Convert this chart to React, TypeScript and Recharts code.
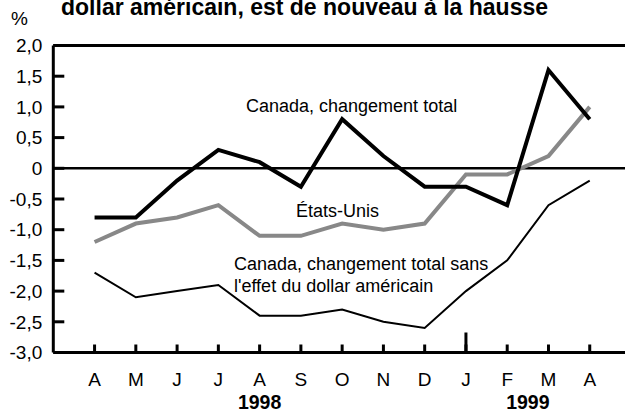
import React from 'react';
import { LineChart, Line, XAxis, YAxis, ReferenceLine } from 'recharts';

const months = ['A', 'M', 'J', 'J', 'A', 'S', 'O', 'N', 'D', 'J', 'F', 'M', 'A'];
const canadaTotal = [-0.8, -0.8, -0.2, 0.3, 0.1, -0.3, 0.8, 0.2, -0.3, -0.3, -0.6, 1.6, 0.8];
const etatsUnis = [-1.2, -0.9, -0.8, -0.6, -1.1, -1.1, -0.9, -1.0, -0.9, -0.1, -0.1, 0.2, 1.0];
const canadaSansDollar = [-1.7, -2.1, -2.0, -1.9, -2.4, -2.4, -2.3, -2.5, -2.6, -2.0, -1.5, -0.6, -0.2];
const yTicks = [2, 1.5, 1, 0.5, 0, -0.5, -1, -1.5, -2, -2.5, -3];
const xTicks = months.map((_, i) => i);
const yearLabels = [
  { index: 4, label: '1998', shift: 0 },
  { index: 10, label: '1999', shift: 0.5 },
];
const longTickIndex = 9;

const data = months.map((m, i) => ({
  i,
  month: m,
  total: canadaTotal[i],
  us: etatsUnis[i],
  sans: canadaSansDollar[i],
}));

const FONT = '"Liberation Sans", Arial, Helvetica, sans-serif';
const W = 640;
const H = 411;
const PLOT_LEFT = 53.3;
const PLOT_RIGHT = 631;
const PLOT_TOP = 45.5;
const PLOT_BOTTOM = 352.5;
const STEP = (PLOT_RIGHT - PLOT_LEFT) / 14;
const X_TICK_LEN = 8;
const X_TICK_MARGIN = 28.5;

const fmtY = (v: number) => (v === 0 ? '0' : v.toFixed(1).replace('.', ','));

const XTick = (props: any) => {
  const { x, y, payload } = props;
  const i = payload.value as number;
  const axisY = y - X_TICK_MARGIN + X_TICK_LEN;
  const year = yearLabels.find((yl) => yl.index === i);
  return (
    <g>
      <text x={x} y={y} dy="0.71em" textAnchor="middle" fill="#000" fontSize={19} fontFamily={FONT}>
        {months[i]}
      </text>
      {i === longTickIndex && (
        <line x1={x} x2={x} y1={axisY} y2={axisY - 20} stroke="#000" strokeWidth={3} />
      )}
      {year && (
        <text
          x={x + year.shift * STEP}
          y={y + 35.5}
          textAnchor="middle"
          fill="#000"
          fontSize={19.5}
          fontWeight="bold"
          fontFamily={FONT}
        >
          {year.label}
        </text>
      )}
    </g>
  );
};

export default function App() {
  return (
    <div style={{ position: 'fixed', left: 0, top: 0, width: 625, height: 411, overflow: 'hidden', background: '#fff' }}>
      <LineChart
        width={W}
        height={H}
        data={data}
        margin={{ top: PLOT_TOP, right: W - PLOT_RIGHT, bottom: 0, left: 0 }}
      >
        <XAxis
          dataKey="i"
          type="number"
          domain={[-1, 13]}
          ticks={xTicks}
          interval={0}
          height={H - PLOT_BOTTOM}
          tickSize={-X_TICK_LEN}
          tickMargin={X_TICK_MARGIN}
          tickLine={{ stroke: '#000', strokeWidth: 3 }}
          axisLine={{ stroke: '#000', strokeWidth: 3 }}
          tick={(p: any) => <XTick {...p} />}
        />
        <YAxis
          yAxisId="l"
          type="number"
          domain={[-3, 2]}
          ticks={yTicks}
          interval={0}
          width={PLOT_LEFT}
          tickSize={-11}
          tickMargin={22}
          tickFormatter={fmtY}
          tickLine={{ stroke: '#000', strokeWidth: 3 }}
          axisLine={{ stroke: '#000', strokeWidth: 3 }}
          tick={{ fill: '#000', fontSize: 19, fontFamily: FONT }}
        />
        <YAxis
          yAxisId="r"
          orientation="right"
          mirror
          type="number"
          domain={[-3, 2]}
          ticks={yTicks}
          interval={0}
          tickSize={11}
          tick={false}
          tickLine={{ stroke: '#000', strokeWidth: 3 }}
          axisLine={{ stroke: '#000', strokeWidth: 3 }}
        />
        <ReferenceLine yAxisId="l" y={2} stroke="#000" strokeWidth={3} />
        <ReferenceLine yAxisId="l" y={0} stroke="#000" strokeWidth={2.5} />
        <Line
          yAxisId="l"
          dataKey="sans"
          stroke="#000"
          strokeWidth={2}
          dot={false}
          activeDot={false}
          isAnimationActive={false}
          type="linear"
        />
        <Line
          yAxisId="l"
          dataKey="us"
          stroke="#888888"
          strokeWidth={4}
          dot={false}
          activeDot={false}
          isAnimationActive={false}
          type="linear"
        />
        <Line
          yAxisId="l"
          dataKey="total"
          stroke="#000"
          strokeWidth={4}
          dot={false}
          activeDot={false}
          isAnimationActive={false}
          type="linear"
        />
      </LineChart>
      <svg
        width={625}
        height={411}
        style={{ position: 'absolute', left: 0, top: 0, pointerEvents: 'none' }}
      >
        <text x={61} y={15} fontSize={23} fontWeight="bold" fontFamily={FONT} fill="#000">
          dollar américain, est de nouveau à la hausse
        </text>
        <text x={11} y={25} fontSize={19} fontFamily={FONT} fill="#000">%</text>
        <text x={246} y={111.5} fontSize={18} fontFamily={FONT} fill="#000">Canada, changement total</text>
        <text x={296} y={216.5} fontSize={18} fontFamily={FONT} fill="#000">États-Unis</text>
        <text x={234} y={270} fontSize={18} fontFamily={FONT} fill="#000">Canada, changement total sans</text>
        <text x={234} y={291.7} fontSize={18} fontFamily={FONT} fill="#000">l'effet du dollar américain</text>
      </svg>
    </div>
  );
}
